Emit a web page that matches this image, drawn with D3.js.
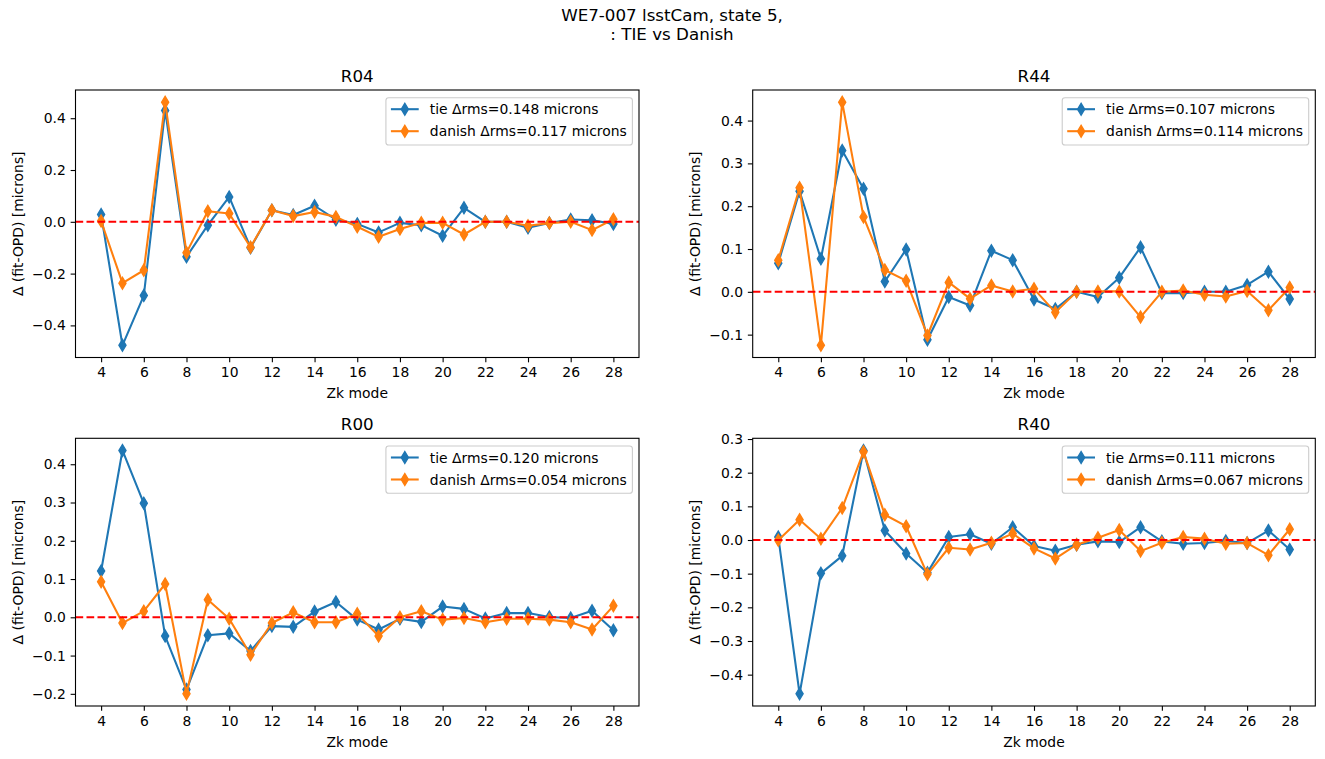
<!DOCTYPE html>
<html><head><meta charset="utf-8">
<script src="https://cdn.jsdelivr.net/npm/d3@7"></script>
<style>body{margin:0;background:#fff} text{font-family:"DejaVu Sans",sans-serif;fill:#000}</style>
</head><body>
<svg id="chart" width="1325" height="759"></svg>
<script>
// ---------- data ----------
const zkModes = [4,5,6,7,8,9,10,11,12,13,14,15,16,17,18,19,20,21,22,23,24,25,26,27,28];
const xTickValues = [4,6,8,10,12,14,16,18,20,22,24,26,28];
const panelNames = ["R04","R44","R00","R40"];
const seriesNames = ["tie","danish"];
const tieRms = ["0.148","0.107","0.120","0.111"];
const danishRms = ["0.117","0.114","0.054","0.067"];

const tieR04 = [0.028,-0.477,-0.285,0.430,-0.135,-0.013,0.096,-0.100,0.045,0.026,0.062,0.008,-0.008,-0.041,-0.004,-0.013,-0.054,0.054,0.000,0.000,-0.023,-0.005,0.009,0.006,-0.008];
const danishR04 = [0.003,-0.237,-0.187,0.462,-0.119,0.041,0.032,-0.098,0.045,0.022,0.038,0.019,-0.019,-0.058,-0.028,-0.004,-0.004,-0.049,0.000,0.000,-0.015,-0.005,0.000,-0.032,0.010];

const tieR44 = [0.067,0.235,0.077,0.330,0.241,0.024,0.099,-0.112,-0.012,-0.032,0.096,0.074,-0.018,-0.040,0.000,-0.012,0.033,0.104,-0.003,-0.003,0.000,0.000,0.016,0.047,-0.017];
const danishR44 = [0.074,0.243,-0.125,0.443,0.175,0.051,0.026,-0.102,0.022,-0.016,0.015,0.001,0.007,-0.048,0.000,0.001,0.001,-0.059,0.000,0.003,-0.007,-0.011,0.002,-0.043,0.010];

const tieR00 = [0.121,0.436,0.298,-0.049,-0.189,-0.047,-0.042,-0.088,-0.023,-0.025,0.015,0.040,-0.006,-0.032,-0.004,-0.012,0.028,0.022,-0.003,0.011,0.011,0.001,-0.002,0.017,-0.034];
const danishR00 = [0.093,-0.015,0.016,0.087,-0.200,0.046,-0.004,-0.098,-0.015,0.013,-0.013,-0.013,0.009,-0.049,0.000,0.016,-0.006,-0.002,-0.013,-0.004,-0.004,-0.006,-0.013,-0.032,0.030];

const tieR40 = [0.009,-0.457,-0.099,-0.047,0.266,0.028,-0.040,-0.097,0.009,0.017,-0.011,0.038,-0.018,-0.032,-0.014,-0.004,-0.006,0.038,-0.004,-0.011,-0.009,-0.003,-0.009,0.028,-0.028];
const danishR40 = [-0.001,0.060,0.004,0.095,0.262,0.075,0.041,-0.102,-0.023,-0.028,-0.008,0.019,-0.025,-0.055,-0.014,0.007,0.030,-0.033,-0.008,0.009,0.004,-0.011,-0.009,-0.045,0.032];

const yTicksR04 = [-0.4,-0.2,0.0,0.2,0.4];
const yTicksR44 = [-0.1,0.0,0.1,0.2,0.3,0.4];
const yTicksR00 = [-0.2,-0.1,0.0,0.1,0.2,0.3,0.4];
const yTicksR40 = [-0.4,-0.3,-0.2,-0.1,0.0,0.1,0.2,0.3];

const tieSeries = [tieR04, tieR44, tieR00, tieR40];
const danishSeries = [danishR04, danishR44, danishR00, danishR40];
const yTickSets = [yTicksR04, yTicksR44, yTicksR00, yTicksR40];

const suptitleLines = ["WE7-007 lsstCam, state 5,", ": TIE vs Danish"];
const xLabel = "Zk mode";
const yLabel = "Δ (fit-OPD) [microns]";

// ---------- layout / style ----------
const colors = ["#1f77b4", "#ff7f0e"];
const cols = [[75.5, 639], [752.7, 1315.3]];
const rows = [[90, 357.5], [438.3, 706]];
const FS = 13.9, TFS = 16.7;

const svg = d3.select("#chart");
svg.append("rect").attr("width",1325).attr("height",759).attr("fill","#fff");

svg.selectAll("text.sup").data(suptitleLines).enter().append("text")
  .attr("class","sup").attr("x",672).attr("y",(d,i)=>21+i*19)
  .attr("text-anchor","middle").attr("font-size",TFS).text(d=>d);

const diamond = "M0,-5.9L3.54,0L0,5.9L-3.54,0Z";

panelNames.forEach((name, p) => {
  const [x0,x1] = cols[p%2];
  const [y0,y1] = rows[Math.floor(p/2)];
  const tie = tieSeries[p], dan = danishSeries[p];
  const xs = d3.scaleLinear().domain([4-1.2, 28+1.2]).range([x0,x1]);
  const ext = d3.extent(tie.concat(dan));
  const pad = (ext[1]-ext[0])*0.05;
  const ys = d3.scaleLinear().domain([ext[0]-pad, ext[1]+pad]).range([y1,y0]);

  const g = svg.append("g");
  const clipId = "clip"+p;
  svg.append("clipPath").attr("id",clipId).append("rect")
    .attr("x",x0).attr("y",y0).attr("width",x1-x0).attr("height",y1-y0);

  // axes
  const xa = g.append("g").attr("transform",`translate(0,${y1})`)
    .call(d3.axisBottom(xs).tickValues(xTickValues).tickFormat(d3.format("d")).tickSize(4.86).tickPadding(4.86));
  const ya = g.append("g").attr("transform",`translate(${x0},0)`)
    .call(d3.axisLeft(ys).tickValues(yTickSets[p]).tickFormat(d3.format(".1f")).tickSize(4.86).tickPadding(4.86));
  [xa,ya].forEach(a=>{
    a.select(".domain").remove();
    a.selectAll("line").attr("stroke","#000").attr("stroke-width",1.1);
    a.selectAll("text").attr("font-size",FS).attr("font-family","DejaVu Sans").attr("fill","#000");
  });

  const plot = g.append("g").attr("clip-path",`url(#${clipId})`);
  [tie, dan].forEach((vals, s) => {
    const pts = zkModes.map((z,i)=>[z, vals[i]]);
    plot.append("path").datum(pts)
      .attr("d", d3.line().x(d=>xs(d[0])).y(d=>ys(d[1])))
      .attr("fill","none").attr("stroke",colors[s]).attr("stroke-width",2.08)
      .attr("stroke-linejoin","round");
    plot.selectAll(null).data(pts).enter().append("path")
      .attr("d",diamond).attr("transform",d=>`translate(${xs(d[0])},${ys(d[1])})`)
      .attr("fill",colors[s]).attr("stroke",colors[s]).attr("stroke-width",1.39)
      .attr("stroke-linejoin","miter");
  });
  plot.append("line").attr("x1",x0).attr("x2",x1).attr("y1",ys(0)).attr("y2",ys(0))
    .attr("stroke","#ff0000").attr("stroke-width",2.08).attr("stroke-dasharray","7.7,3.3");

  // spines
  g.append("rect").attr("x",x0).attr("y",y0).attr("width",x1-x0).attr("height",y1-y0)
    .attr("fill","none").attr("stroke","#000").attr("stroke-width",1.1);

  // title & labels
  g.append("text").attr("x",(x0+x1)/2).attr("y",y0-8.3).attr("text-anchor","middle")
    .attr("font-size",TFS).text(name);
  g.append("text").attr("x",(x0+x1)/2).attr("y",y1+40.5).attr("text-anchor","middle")
    .attr("font-size",FS).text(xLabel);
  g.append("text").attr("transform",`translate(${x0-57.5},${(y0+y1)/2}) rotate(-90)`)
    .attr("text-anchor","middle").attr("dy","0.35em").attr("font-size",FS).text(yLabel);

  // legend
  const labels = [`${seriesNames[0]} Δrms=${tieRms[p]} microns`, `${seriesNames[1]} Δrms=${danishRms[p]} microns`];
  const lg = g.append("g");
  const box = lg.append("rect");
  const texts = lg.selectAll("text").data(labels).enter().append("text")
    .attr("font-size",FS).text(d=>d);
  const maxW = d3.max(texts.nodes(), n=>n.getComputedTextLength());
  const boxR = x1 - 6.6, boxT = y0 + 7.7;
  const textEnd = boxR - 5.6;
  const textStart = textEnd - maxW;
  const hx1 = textStart - 11.1, hx0 = hx1 - 27.8;
  const boxL = hx0 - 5.0;
  box.attr("x",boxL).attr("y",boxT).attr("width",boxR-boxL).attr("height",47.3)
    .attr("rx",2.8).attr("fill","#fff").attr("fill-opacity",0.8)
    .attr("stroke","#cccccc").attr("stroke-width",1.1);
  labels.forEach((l,i)=>{
    const cy = boxT + 11.5 + i*22;
    lg.append("line").attr("x1",hx0).attr("x2",hx1).attr("y1",cy).attr("y2",cy)
      .attr("stroke",colors[i]).attr("stroke-width",2.08);
    lg.append("path").attr("d",diamond).attr("transform",`translate(${(hx0+hx1)/2},${cy})`)
      .attr("fill",colors[i]).attr("stroke",colors[i]).attr("stroke-width",1.39);
  });
  texts.attr("x",textStart).attr("y",(d,i)=>boxT + 11.5 + i*22).attr("dy","0.36em");
});
</script>
</body></html>
